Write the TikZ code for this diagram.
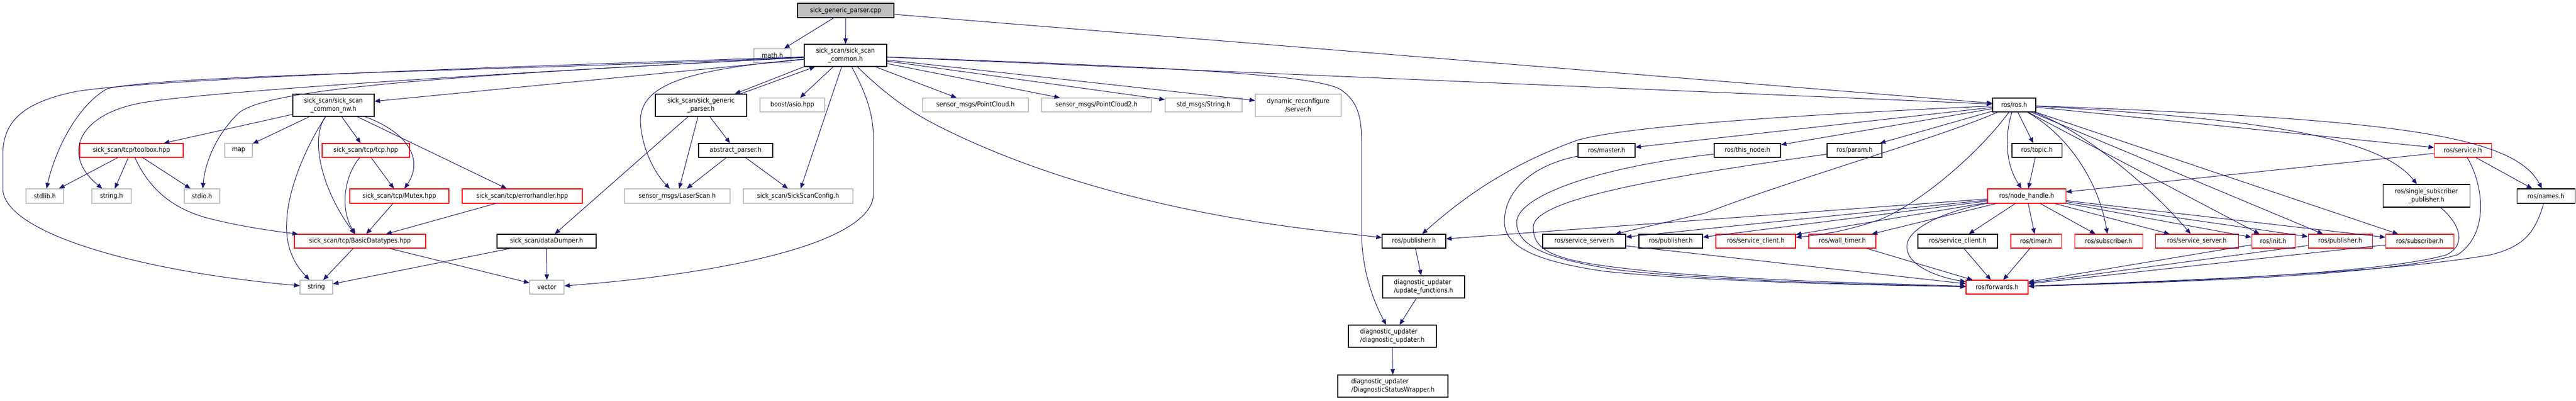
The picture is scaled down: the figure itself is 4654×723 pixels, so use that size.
\documentclass[tikz,border=0pt]{standalone}
\usepackage{fontspec}
\setmainfont{DejaVu Sans Condensed}
\usetikzlibrary{arrows.meta}
\definecolor{edgeblue}{HTML}{191970}
\definecolor{extgray}{HTML}{BFBFBF}
\newcommand\bx[7]{\node[#1, minimum width={(#5-#3)*1pt}, minimum height={(#6-#4)*1pt}] (#2) at ({(#3+#5)/2},{(#4+#6)/2}) {#7};}
\begin{document}
\begin{tikzpicture}[x=1pt,y=-1pt,
  box/.style={draw=black, line width=1.1pt, inner sep=0pt, font=\fontsize{12}{15}\selectfont, align=center},
  boxl/.style={box, align=left},
  ext/.style={box, draw=extgray},
  trunc/.style={box, draw=red},
  root/.style={box, fill=extgray},
  edge/.style={draw=edgeblue, line width=1pt, -{Triangle[length=10pt,width=8pt]}}]
\fill[white] (0,0) rectangle (4654,723);
\useasboundingbox (0,0) rectangle (4654,723);
% nodes
\bx{root}{cpp}{1441}{6}{1615}{32}{sick\_generic\_parser.cpp}
\bx{ext}{math}{1362}{88}{1429}{113}{math.h}
\bx{box}{common}{1453}{80}{1602}{120}{sick\_scan/sick\_scan\\\_common.h}
\bx{box}{nw}{529}{170}{676}{210}{sick\_scan/sick\_scan\\\_common\_nw.h}
\bx{box}{gp}{1184}{170}{1349}{210}{sick\_scan/sick\_generic\\\_parser.h}
\bx{ext}{boost}{1373}{177}{1490}{202}{boost/asio.hpp}
\bx{ext}{pc}{1667}{177}{1858}{202}{sensor\_msgs/PointCloud.h}
\bx{ext}{pctwo}{1882}{177}{2080}{202}{sensor\_msgs/PointCloud2.h}
\bx{ext}{strmsg}{2105}{177}{2244}{202}{std\_msgs/String.h}
\bx{ext}{dyn}{2268}{170}{2423}{210}{dynamic\_reconfigure\\/server.h}
\bx{trunc}{toolbox}{144}{259}{331}{284}{sick\_scan/tcp/toolbox.hpp}
\bx{ext}{map}{406}{259}{456}{284}{map}
\bx{trunc}{tcp}{582}{259}{740}{284}{sick\_scan/tcp/tcp.hpp}
\bx{box}{abstract}{1262}{259}{1396}{284}{abstract\_parser.h}
\bx{box}{master}{2851}{259}{2954}{284}{ros/master.h}
\bx{box}{thisnode}{3097}{259}{3217}{284}{ros/this\_node.h}
\bx{box}{param}{3301}{259}{3400}{284}{ros/param.h}
\bx{box}{topic}{3635}{259}{3725}{284}{ros/topic.h}
\bx{trunc}{service}{4398}{259}{4501}{284}{ros/service.h}
\bx{box}{rosh}{3600}{177}{3678}{202}{ros/ros.h}
\bx{ext}{stdlib}{47}{341}{115}{367}{stdlib.h}
\bx{ext}{stringh}{166}{341}{237}{367}{string.h}
\bx{ext}{stdio}{333}{341}{397}{367}{stdio.h}
\bx{trunc}{mutex}{632}{341}{811}{367}{sick\_scan/tcp/Mutex.hpp}
\bx{trunc}{errh}{835}{341}{1052}{367}{sick\_scan/tcp/errorhandler.hpp}
\bx{ext}{laser}{1128}{341}{1319}{367}{sensor\_msgs/LaserScan.h}
\bx{ext}{config}{1343}{341}{1541}{367}{sick\_scan/SickScanConfig.h}
\bx{trunc}{nh}{3591}{341}{3732}{367}{ros/node\_handle.h}
\bx{box}{singlesub}{4305}{333}{4462}{374}{ros/single\_subscriber\\\_publisher.h}
\bx{box}{names}{4547}{341}{4652}{367}{ros/names.h}
\bx{trunc}{basic}{532}{423}{769}{448}{sick\_scan/tcp/BasicDatatypes.hpp}
\bx{box}{dd}{898}{423}{1077}{448}{sick\_scan/dataDumper.h}
\bx{box}{pubA}{2497}{423}{2612}{448}{ros/publisher.h}
\bx{box}{ssA}{2787}{423}{2937}{448}{ros/service\_server.h}
\bx{box}{pubB}{2961}{423}{3076}{448}{ros/publisher.h}
\bx{trunc}{scA}{3100}{423}{3244}{448}{ros/service\_client.h}
\bx{trunc}{wall}{3268}{423}{3389}{448}{ros/wall\_timer.h}
\bx{box}{scB}{3465}{423}{3609}{448}{ros/service\_client.h}
\bx{trunc}{timer}{3633}{423}{3724}{448}{ros/timer.h}
\bx{trunc}{subA}{3748}{423}{3871}{448}{ros/subscriber.h}
\bx{trunc}{ssB}{3894}{423}{4044}{448}{ros/service\_server.h}
\bx{trunc}{init}{4068}{423}{4146}{448}{ros/init.h}
\bx{trunc}{pubC}{4170}{423}{4286}{448}{ros/publisher.h}
\bx{trunc}{subB}{4310}{423}{4433}{448}{ros/subscriber.h}
\bx{boxl}{upd}{2498}{498}{2646}{538}{diagnostic\_updater\\/update\_functions.h}
\bx{ext}{string}{542}{506}{601}{531}{string}
\bx{ext}{vector}{957}{506}{1019}{531}{vector}
\bx{trunc}{fwd}{3552}{506}{3664}{531}{ros/forwards.h}
\bx{boxl}{diag}{2436}{587}{2595}{627}{diagnostic\_updater\\/diagnostic\_updater.h}
\bx{boxl}{wrap}{2417}{677}{2616}{717}{diagnostic\_updater\\/DiagnosticStatusWrapper.h}
% edges from cpp
\draw[edge] (cpp) -- (math);
\draw[edge] (cpp) -- (common);
\draw[edge] (cpp) -- (rosh);
% edges from common
\draw[edge] (common) -- (rosh);
\draw[edge] (common) -- (pc);
\draw[edge] (common) -- (pctwo);
\draw[edge] (common) -- (strmsg);
\draw[edge] (common) -- (dyn);
\draw[edge] (common) -- (boost);
\draw[edge] (common) -- (config);
\draw[edge] (common) -- (nw);
\draw[edge] (common.south west) -- ([xshift=-22pt]gp.north east);
\draw[edge] ([xshift=-12pt]gp.north east) -- ([xshift=20pt]common.south west);
\draw[edge] (common) .. controls (1250,125) and (1160,150) .. (1157,215) .. controls (1157,260) and (1180,310) .. (laser);
\draw[edge] (common) .. controls (1560,160) and (1578,200) .. (1578,250) -- (1578,350) .. controls (1578,440) and (1300,495) .. (vector);
\draw[edge] (common) .. controls (1600,170) and (1640,200) .. (1700,230) .. controls (1900,330) and (2150,390) .. (2400,418) -- (pubA);
\draw[edge] (common) .. controls (2000,118) and (2380,130) .. (2424,163) .. controls (2455,185) and (2460,215) .. (2460,260) -- (2460,420) .. controls (2460,500) and (2490,560) .. (diag);
\draw[edge] (common) .. controls (1000,118) and (300,140) .. (138,165) .. controls (40,185) and (5,220) .. (5,280) -- (5,340) .. controls (5,420) and (250,490) .. (string);
\draw[edge] (common) .. controls (900,128) and (300,135) .. (194,160) .. controls (140,190) and (100,270) .. (stdlib);
\draw[edge] (common) .. controls (900,132) and (380,165) .. (260,185) .. controls (140,205) and (110,280) .. (stringh);
\draw[edge] (common) .. controls (800,137) and (480,160) .. (430,205) .. controls (385,250) and (370,300) .. (stdio);
% edges from nw
\draw[edge] (nw) -- (toolbox);
\draw[edge] (nw) -- (map);
\draw[edge] (nw) -- (tcp);
\draw[edge] (nw) -- (errh);
\draw[edge] (nw) .. controls (740,240) and (765,290) .. (mutex);
\draw[edge] (nw) .. controls (560,250) and (580,340) .. (basic);
\draw[edge] (nw) .. controls (555,260) and (520,340) .. (518,400) .. controls (515,450) and (535,480) .. (string);
% toolbox, tcp, mutex, errh
\draw[edge] (toolbox) -- (stdlib);
\draw[edge] (toolbox) -- (stringh);
\draw[edge] (toolbox) -- (stdio);
\draw[edge] (toolbox) .. controls (265,330) and (300,375) .. (380,395) .. controls (440,410) and (500,418) .. (basic);
\draw[edge] (tcp) -- (mutex);
\draw[edge] (tcp) .. controls (620,320) and (615,380) .. (basic);
\draw[edge] (mutex) -- (basic);
\draw[edge] (errh) -- (basic);
\draw[edge] (basic) -- (string);
\draw[edge] (basic) -- (vector);
\draw[edge] (dd) -- (vector);
\draw[edge] (dd) -- (string);
% generic parser
\draw[edge] (gp) -- (dd);
\draw[edge] (gp) -- (laser);
\draw[edge] (gp) -- (abstract);
\draw[edge] (abstract) -- (laser);
\draw[edge] (abstract) -- (config);
% diagnostics
\draw[edge] (pubA) -- (upd);
\draw[edge] (upd) -- (diag);
\draw[edge] (diag) -- (wrap);
% ros.h
\draw[edge] (rosh) -- (master);
\draw[edge] (rosh) -- (thisnode);
\draw[edge] (rosh) -- (param);
\draw[edge] (rosh) -- (topic);
\draw[edge] (rosh) .. controls (3620,250) and (3625,300) .. (nh);
\draw[edge] (topic) -- (nh);
\draw[edge] (rosh) .. controls (3300,205) and (2950,225) .. (2850,253) .. controls (2720,300) and (2640,360) .. (pubA);
\draw[edge] (rosh) .. controls (3500,250) and (3250,320) .. (3080,385) -- (ssA);
\draw[edge] (rosh) .. controls (3580,270) and (3480,360) .. (3400,395) .. controls (3330,420) and (3280,425) .. (scA);
\draw[edge] (rosh) .. controls (3730,240) and (3790,320) .. (subA);
\draw[edge] (rosh) .. controls (3750,230) and (3870,320) .. (ssB);
\draw[edge] (rosh) -- (init);
\draw[edge] (rosh) -- (pubC);
\draw[edge] (rosh) -- (subB);
\draw[edge] (rosh) -- (service);
\draw[edge] (rosh) .. controls (4100,215) and (4300,250) .. (singlesub);
\draw[edge] (rosh) .. controls (4300,215) and (4540,240) .. (names);
% service
\draw[edge] (service) -- (nh);
\draw[edge] (service) -- (names);
\draw[edge] (service) .. controls (4485,330) and (4500,420) .. (4440,460) .. controls (4300,500) and (3900,510) .. (fwd);
\draw[edge] (singlesub) .. controls (4440,400) and (4460,440) .. (4420,460) .. controls (4300,495) and (3900,510) .. (fwd);
\draw[edge] (names) .. controls (4580,420) and (4560,445) .. (4500,460) .. controls (4300,495) and (3900,508) .. (fwd);
% node_handle
\draw[edge] (nh) -- (pubA);
\draw[edge] (nh) -- (ssA);
\draw[edge] (nh) -- (pubB);
\draw[edge] (nh) -- (scA);
\draw[edge] (nh) -- (wall);
\draw[edge] (nh) -- (scB);
\draw[edge] (nh) -- (timer);
\draw[edge] (nh) -- (subA);
\draw[edge] (nh) -- (ssB);
\draw[edge] (nh) -- (init);
\draw[edge] (nh) -- (pubC);
\draw[edge] (nh) -- (subB);
\draw[edge] (nh) .. controls (3520,380) and (3445,410) .. (3445,445) .. controls (3445,480) and (3500,500) .. (fwd);
% into forwards
\draw[edge] (ssA) -- (fwd);
\draw[edge] (wall) -- (fwd);
\draw[edge] (scB) -- (fwd);
\draw[edge] (timer) -- (fwd);
\draw[edge] (init) -- (fwd);
\draw[edge] (pubC) -- (fwd);
\draw[edge] (subB) -- (fwd);
\draw[edge] (master) .. controls (2760,300) and (2718,350) .. (2718,400) .. controls (2718,440) and (2760,470) .. (2900,490) .. controls (3100,510) and (3400,515) .. (fwd);
\draw[edge] (thisnode) .. controls (2900,300) and (2745,350) .. (2740,400) .. controls (2740,440) and (2780,465) .. (2920,487) .. controls (3100,508) and (3400,514) .. (fwd);
\draw[edge] (param) .. controls (3000,320) and (2770,360) .. (2770,410) .. controls (2770,450) and (2800,470) .. (2940,485) .. controls (3100,505) and (3400,512) .. (fwd);
\end{tikzpicture}
\end{document}
